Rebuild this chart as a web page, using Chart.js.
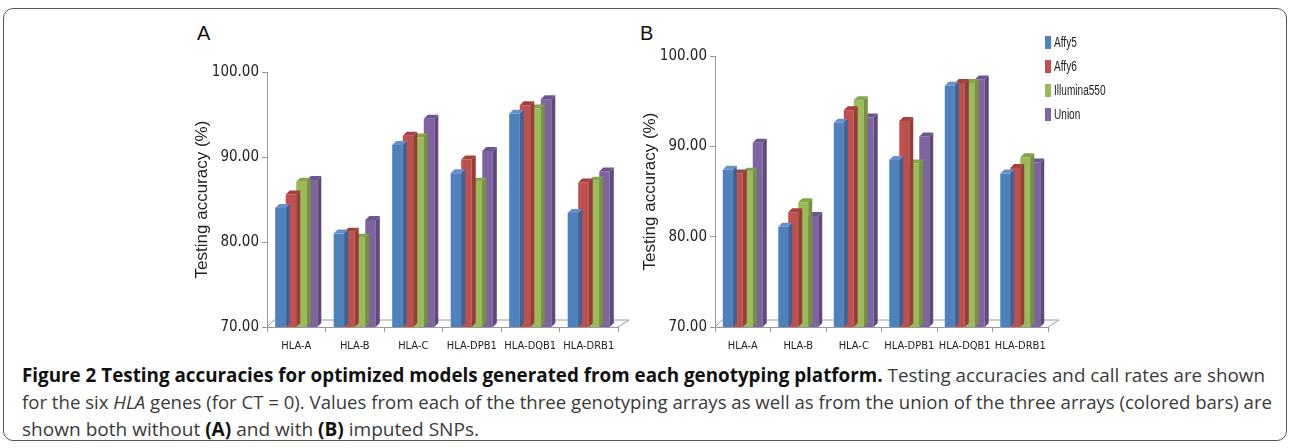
<!DOCTYPE html>
<html>
<head>
<meta charset="utf-8">
<script src="https://cdn.jsdelivr.net/npm/chart.js@4.4.1/dist/chart.umd.min.js"></script>
<style>
  html, body { margin: 0; padding: 0; background: #fff; }
  body { width: 1290px; height: 448px; position: relative; overflow: hidden; font-family: "Liberation Sans", Arial, sans-serif; }
  #frame { position: absolute; left: 3px; top: 8px; width: 1282px; height: 431px; border: 1px solid #555; border-radius: 10px; }
  .cv { position: absolute; top: 0; }
  .panel { position: absolute; font-size: 20px; color: #111; }
  #legend { position: absolute; left: 1045px; top: 34px; font-family: "Liberation Sans", Arial, sans-serif; font-size: 14px; color: #222; }
  #legend div { height: 24px; line-height: 16px; white-space: nowrap; }
  #legend span.sw { display: inline-block; width: 6px; height: 13px; margin-right: 3px; vertical-align: -2px; }
  #legend span.tx { display: inline-block; transform: scaleX(0.72); transform-origin: 0 0; }
  .cap { position: absolute; left: 22px; font-family: "Open Sans", sans-serif; font-size: 19px; color: #3a3a3a; white-space: nowrap; transform-origin: 0 0; }
  .cap b { color: #111; }
</style>
</head>
<body>
<div id="frame"></div>
<div class="panel" style="left:197px; top:22px;">A</div>
<div class="panel" style="left:640px; top:22px;">B</div>
<canvas id="chartA" class="cv" style="left:170px;" width="470" height="360"></canvas>
<canvas id="chartB" class="cv" style="left:620px;" width="440" height="360"></canvas>
<div id="legend"></div>
<div class="cap" data-w="1243" style="top:362px;"><b>Figure 2 Testing accuracies for optimized models generated from each genotyping platform.</b> Testing accuracies and call rates are shown</div>
<div class="cap" data-w="1250" style="top:389px;">for the six <i>HLA</i> genes (for CT = 0). Values from each of the three genotyping arrays as well as from the union of the three arrays (colored bars) are</div>
<div class="cap" data-w="457" style="top:416px;">shown both without <b>(A)</b> and with <b>(B)</b> imputed SNPs.</div>
<script>
// ---------- data ----------
const genes = ["HLA-A", "HLA-B", "HLA-C", "HLA-DPB1", "HLA-DQB1", "HLA-DRB1"];
const platforms = ["Affy5", "Affy6", "Illumina550", "Union"];

// A: without imputed SNPs
const affy5A = [84.0, 81.0, 91.4, 88.1, 95.1, 83.4];
const affy6A = [85.6, 81.2, 92.5, 89.7, 96.1, 87.0];
const illuminaA = [87.1, 80.5, 92.3, 87.1, 95.7, 87.2];
const unionA = [87.3, 82.6, 94.5, 90.7, 96.8, 88.3];

// B: with imputed SNPs
const affy5B = [87.4, 81.1, 92.6, 88.5, 96.7, 87.0];
const affy6B = [87.0, 82.7, 94.0, 92.8, 97.0, 87.6];
const illuminaB = [87.2, 83.8, 95.1, 88.1, 97.0, 88.8];
const unionB = [90.4, 82.3, 93.2, 91.1, 97.4, 88.2];

const yTicks = [70, 80, 90, 100];

const faceColors = ["#4F81BD", "#C0504D", "#9BBB59", "#8064A2"];
const sideColors = ["#3A6396", "#943D3A", "#76913F", "#5F4A7D"];
const topColors = ["#6890C8", "#A5403D", "#86A64A", "#6E5591"];

const DEPTH = 4;
const narrow = "'Liberation Sans Narrow', 'DejaVu Sans Condensed', sans-serif";

// draws side + top of each bar right after its dataset, so the next bar covers it
const bar3d = {
  id: "bar3d",
  beforeDatasetsDraw(chart) {
    const { ctx, chartArea: a } = chart;
    const d = 7;
    ctx.save();
    ctx.strokeStyle = "#9a9a9a";
    ctx.lineWidth = 1;
    ctx.beginPath();
    ctx.moveTo(a.left, a.bottom);
    ctx.lineTo(a.left + d, a.bottom - d);
    ctx.lineTo(a.right + d + 4, a.bottom - d);
    ctx.lineTo(a.right, a.bottom);
    ctx.stroke();
    ctx.restore();
  },
  afterDatasetDraw(chart, args) {
    const { ctx, chartArea: a } = chart;
    const i = args.index;
    const meta = chart.getDatasetMeta(i);
    ctx.save();
    meta.data.forEach(el => {
      const x0 = el.x - el.width / 2, x1 = el.x + el.width / 2;
      const y = el.y, b = Math.min(el.base, a.bottom);
      ctx.fillStyle = sideColors[i];
      ctx.beginPath();
      ctx.moveTo(x1, y);
      ctx.lineTo(x1 + DEPTH, y - DEPTH);
      ctx.lineTo(x1 + DEPTH, b - DEPTH);
      ctx.lineTo(x1, b);
      ctx.closePath();
      ctx.fill();
      ctx.fillStyle = topColors[i];
      ctx.beginPath();
      ctx.moveTo(x0, y);
      ctx.lineTo(x0 + DEPTH, y - DEPTH);
      ctx.lineTo(x1 + DEPTH, y - DEPTH);
      ctx.lineTo(x1, y);
      ctx.closePath();
      ctx.fill();
    });
    ctx.restore();
  }
};

function makeChart(id, series, pad, yWidth) {
  return new Chart(document.getElementById(id), {
    type: "bar",
    data: {
      labels: genes,
      datasets: series.map((s, i) => ({
        label: platforms[i],
        data: s,
        backgroundColor: faceColors[i],
        borderWidth: 0,
        barPercentage: 1.0,
        categoryPercentage: 0.72
      }))
    },
    options: {
      responsive: false,
      animation: false,
      layout: { padding: pad },
      plugins: { legend: { display: false }, tooltip: { enabled: false } },
      scales: {
        x: {
          afterFit(s) { s.height = 33; },
          grid: { drawOnChartArea: false, offset: true, tickLength: 5, color: "#9a9a9a" },
          border: { color: "#9a9a9a" },
          ticks: {
            color: "#222",
            padding: 8,
            autoSkip: false,
            maxRotation: 0,
            font: { family: narrow, size: 11 }
          }
        },
        y: {
          min: 70,
          max: 100,
          afterFit(s) { s.width = yWidth; },
          afterBuildTicks(s) { s.ticks = yTicks.map(v => ({ value: v })); },
          grid: { drawOnChartArea: false, tickLength: 5, color: "#9a9a9a" },
          border: { color: "#9a9a9a" },
          ticks: {
            color: "#222",
            padding: 3,
            callback: v => v.toFixed(2),
            font: { family: narrow, size: 15 }
          },
          title: {
            display: true,
            text: "Testing accuracy (%)",
            color: "#222",
            padding: { top: 0, bottom: 4 },
            font: { family: "'Liberation Sans', Arial, sans-serif", size: 17 }
          }
        }
      }
    },
    plugins: [bar3d]
  });
}

makeChart("chartA", [affy5A, affy6A, illuminaA, unionA], { top: 72, right: 22, left: 22, bottom: 0 }, 75);
makeChart("chartB", [affy5B, affy6B, illuminaB, unionB], { top: 56, right: 12, left: 20, bottom: 0 }, 75);

// legend
const leg = document.getElementById("legend");
platforms.forEach((p, i) => {
  const row = document.createElement("div");
  row.innerHTML = `<span class="sw" style="background:${faceColors[i]}"></span><span class="tx">${p}</span>`;
  leg.appendChild(row);
});

// stretch caption lines to the widths of the reference
document.querySelectorAll(".cap").forEach(el => {
  const w = el.getBoundingClientRect().width;
  el.style.transform = `scaleX(${+el.dataset.w / w})`;
});
</script>
</body>
</html>
